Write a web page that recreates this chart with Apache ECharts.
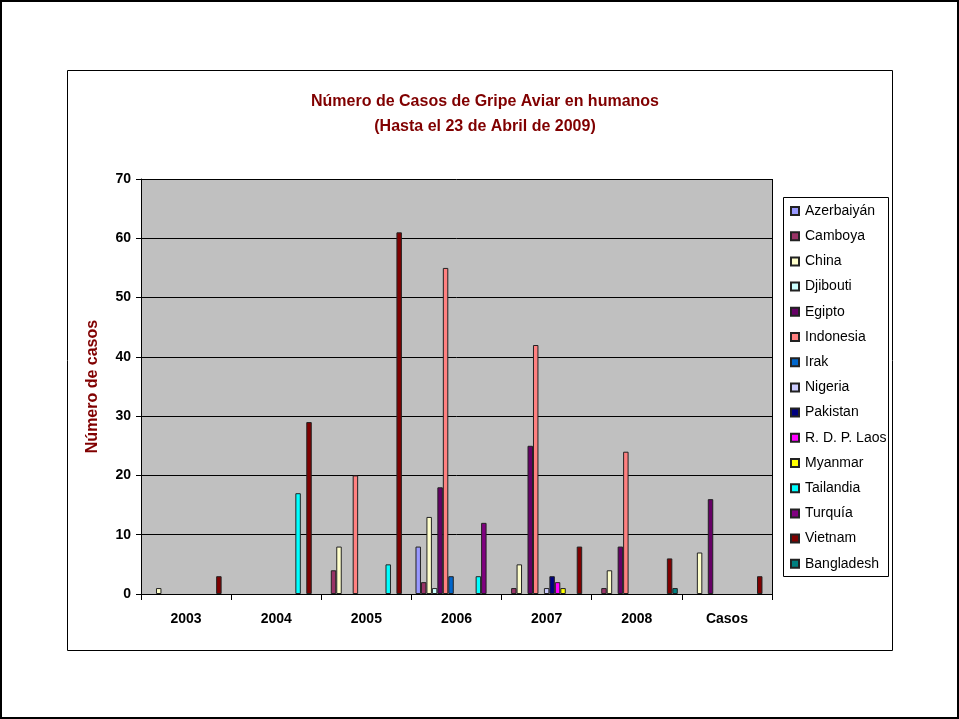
<!DOCTYPE html>
<html><head><meta charset="utf-8">
<script src="https://cdn.jsdelivr.net/npm/echarts@6/dist/echarts.min.js"></script>
<style>html,body{margin:0;padding:0;background:#fff}#c{width:959px;height:719px}</style>
</head><body><div id="c"></div>
<script>
const categories = ['2003','2004','2005','2006','2007','2008','Casos'];
const seriesNames = ['Azerbaiyán','Camboya','China','Djibouti','Egipto','Indonesia','Irak','Nigeria','Pakistan','R. D. P. Laos','Myanmar','Tailandia','Turquía','Vietnam','Bangladesh'];
const seriesColors = ['#9999FF','#993366','#FFFFCC','#CCFFFF','#660066','#FF8080','#0066CC','#CCCCFF','#000080','#FF00FF','#FFFF00','#00FFFF','#800080','#800000','#008080'];
const azerbaiyan = [0,0,0,8,0,0,0];
const camboya    = [0,0,4,2,1,1,0];
const china      = [1,0,8,13,5,4,7];
const djibouti   = [0,0,0,1,0,0,0];
const egipto     = [0,0,0,18,25,8,16];
const indonesia  = [0,0,20,55,42,24,0];
const irak       = [0,0,0,3,0,0,0];
const nigeria    = [0,0,0,0,1,0,0];
const pakistan   = [0,0,0,0,3,0,0];
const laos       = [0,0,0,0,2,0,0];
const myanmar    = [0,0,0,0,1,0,0];
const tailandia  = [0,17,5,3,0,0,0];
const turquia    = [0,0,0,12,0,0,0];
const vietnam    = [3,29,61,0,8,6,3];
const bangladesh = [0,0,0,0,0,1,0];
const yTicks = [0,10,20,30,40,50,60,70];

const values = [azerbaiyan,camboya,china,djibouti,egipto,indonesia,irak,nigeria,pakistan,laos,myanmar,tailandia,turquia,vietnam,bangladesh];
const font = 'Liberation Sans, Arial, sans-serif';
const chart = echarts.init(document.getElementById('c'), null, {renderer:'canvas'});
chart.setOption({
  animation:false,
  backgroundColor:'#fff',
  title:{
    text:'Número de Casos de Gripe Aviar en humanos\n(Hasta el 23 de Abril de 2009)',
    left:480, top:84, textAlign:'center',
    textStyle:{color:'#800000', fontSize:16, fontWeight:'bold', fontFamily:'Liberation Sans Narrow, Arial Narrow, Liberation Sans, sans-serif', lineHeight:25}
  },
  grid:{left:141, right:187, top:179, bottom:125, backgroundColor:'#C0C0C0', show:true, borderWidth:0},
  legend:{
    orient:'vertical', left:785, top:198, itemWidth:8, itemHeight:8, itemGap:9.2,
    icon:'rect',
    textStyle:{color:'#000', fontSize:14, fontFamily:font, lineHeight:16, padding:[0,0,0,1]},
    data:seriesNames
  },
  xAxis:{
    type:'category', data:categories,
    axisLine:{lineStyle:{color:'#000', width:1}},
    axisTick:{show:true, length:6, lineStyle:{color:'#000'}},
    axisLabel:{color:'#000', fontSize:14, fontWeight:'bold', fontFamily:font, margin:18}
  },
  yAxis:{
    type:'value', min:0, max:70, interval:10,
    name:'Número de casos', nameLocation:'middle', nameGap:40, nameRotate:90,
    nameTextStyle:{color:'#800000', fontSize:16, fontWeight:'bold', fontFamily:font},
    axisLine:{show:true, lineStyle:{color:'#000'}},
    axisTick:{show:true, length:5, lineStyle:{color:'#000'}},
    axisLabel:{color:'#000', fontSize:14, fontWeight:'bold', fontFamily:font, margin:10},
    splitLine:{lineStyle:{color:'#000', width:1}}
  },
  graphic:[
    {type:'rect', shape:{x:1,y:1,width:957,height:717}, style:{fill:null, stroke:'#000', lineWidth:2}, z:100},
    {type:'rect', shape:{x:67.5,y:70.5,width:825,height:580}, style:{fill:null, stroke:'#000', lineWidth:1}, z:100},
    {type:'rect', shape:{x:783.5,y:197.5,width:105,height:379}, style:{fill:null, stroke:'#000', lineWidth:1}, z:100},
    {type:'line', shape:{x1:772.5,y1:179,x2:772.5,y2:594}, style:{stroke:'#000', lineWidth:1}, z:100}
  ],
  series: seriesNames.map((n,i)=>({
    name:n, type:'bar', data:values[i].map(v=>v===0?null:v),
    barGap:'0%', barCategoryGap:'9%',
    itemStyle:{color:seriesColors[i], borderColor:'#222', borderWidth:1}
  }))
});
</script></body></html>
